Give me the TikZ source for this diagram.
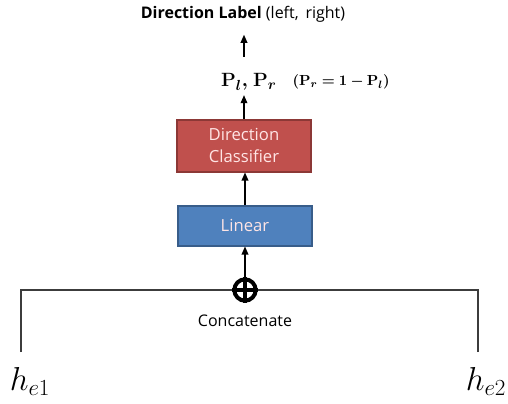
\documentclass[tikz,border=0pt]{standalone}
\usepackage{amsmath}
\usepackage[no-math]{fontspec}
\setmainfont{Open Sans}
\usepackage{tikz}
\usetikzlibrary{arrows.meta,positioning}
\definecolor{cRed}{RGB}{192,80,77}
\definecolor{cRedDark}{RGB}{140,56,54}
\definecolor{cBlue}{RGB}{79,129,189}
\definecolor{cBlueDark}{RGB}{56,93,138}
\definecolor{cLine}{RGB}{60,60,60}

\begin{document}
\begin{tikzpicture}[
    x=0.75pt, y=-0.75pt,
    block/.style={rectangle,draw,line width=1.5pt,minimum width=100pt,text=white!90!red,font=\fontsize{12.5}{16}\selectfont,align=center},
    up/.style={-{Triangle[width=5pt,length=6pt]},line width=0.9pt,black},
    wire/.style={line width=0.9pt,cLine}
  ]
  \useasboundingbox (0,0) rectangle (508,404);
  % Output
  \node[font=\fontsize{12}{14}\selectfont] (lbl) at (243,14) {\textbf{Direction Label} (left,\, right)};
  \node[font=\fontsize{15}{17}\selectfont] (prob) at (249,82) {$\mathbf{P}_{\boldsymbol{l}}\boldsymbol{,}\ \mathbf{P}_{\boldsymbol{r}}$};
  \node[font=\fontsize{10.8}{12}\selectfont,anchor=west] (rel) at (288,82) {$\boldsymbol{(}\mathbf{P}_{\boldsymbol{r}} \boldsymbol{=} \mathbf{1} \boldsymbol{-} \mathbf{P}_{\boldsymbol{l}}\boldsymbol{)}$};
  % Blocks
  \node[block,fill=cRed,draw=cRedDark,minimum height=39pt] (cls) at (244,145.5) {Direction\\Classifier};
  \node[block,fill=cBlue,draw=cBlueDark,minimum height=30pt] (lin) at (245,225.5) {Linear};
  % Concatenation
  \node[circle,draw,line width=3pt,minimum size=16pt,inner sep=0pt] (cat) at (245,290) {};
  \draw[line width=2.6pt] (cat.north) -- (cat.south) (cat.west) -- (cat.east);
  \node[font=\fontsize{12}{14}\selectfont,below=6pt of cat] (ctxt) {Concatenate};
  % Inputs
  \node[font=\fontsize{25}{28}\selectfont] (he1) at (30,381) {$h_{e1}$};
  \node[font=\fontsize{25}{28}\selectfont] (he2) at (486,381) {$h_{e2}$};
  \coordinate (l0) at (21,352);
  \coordinate (r0) at (478,352);
  \draw[wire] (l0) |- (cat.west);
  \draw[wire] (r0) |- (cat.east);
  % Flow
  \draw[up] (cat.north) -- (lin.south);
  \draw[up] (lin.north) -- (lin.north |- cls.south);
  \draw[up] (cls.north) -- (cls.north |- prob.south);
  \draw[up,shorten <=9pt,shorten >=6pt] (prob.north -| cls.north) -- (lbl.south -| cls.north);
\end{tikzpicture}
\end{document}
